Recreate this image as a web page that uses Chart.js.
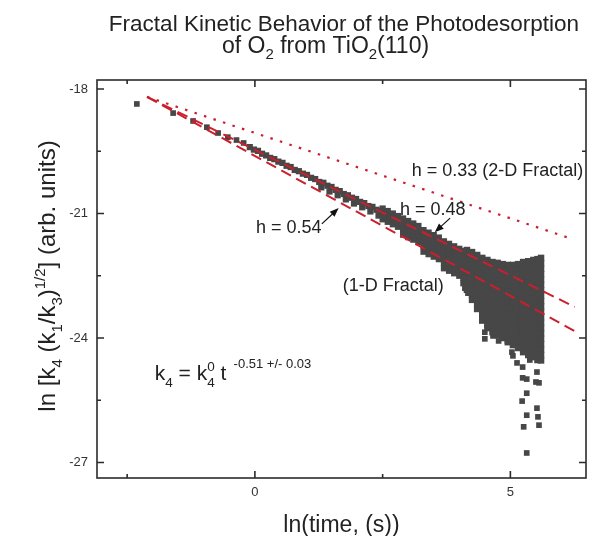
<!DOCTYPE html>
<html>
<head>
<meta charset="utf-8">
<style>
  html, body { margin: 0; padding: 0; background: #fff; }
  #wrap { width: 591px; height: 536px; }
</style>
</head>
<body>
<div id="wrap"><canvas id="c" width="591" height="536"></canvas></div>
<script src="https://cdn.jsdelivr.net/npm/chart.js@4.4.1/dist/chart.umd.min.js"></script>
<script>
/* ---- data (x = ln t, y = ln[k4 (k1/k3)^1/2]) ---- */

// sparse points at short times
const earlyX = [-2.31, -1.60, -1.21, -0.94, -0.72, -0.53, -0.36, -0.22];
const earlyY = [-18.36, -18.58, -18.77, -18.92, -19.06, -19.16, -19.23, -19.30];

// dense band, one column of y values per x
const bandX = [-0.10, -0.02, 0.06, 0.14, 0.22, 0.30, 0.38, 0.46, 0.54, 0.62, 0.70, 0.78, 0.86, 0.94,
  1.02, 1.10, 1.18, 1.26, 1.30, 1.34, 1.42, 1.46, 1.50, 1.58, 1.62, 1.66, 1.74, 1.78, 1.82, 1.90,
  1.94, 1.98, 2.06, 2.10, 2.14, 2.22, 2.26, 2.30, 2.38, 2.42, 2.46,
  2.50, 2.60, 2.70, 2.80, 2.90, 3.00, 3.10, 3.20, 3.30, 3.40, 3.50, 3.60, 3.70, 3.80, 3.90, 4.00, 4.08];
const bandY = [
  [-19.40], [-19.46], [-19.49], [-19.56], [-19.60], [-19.66], [-19.69], [-19.75], [-19.78], [-19.85],
  [-19.88], [-19.95], [-19.98], [-20.04], [-20.07], [-20.14], [-20.17], [-20.24], [-20.37], [-20.26],
  [-20.33], [-20.47], [-20.36], [-20.43], [-20.56], [-20.46], [-20.53], [-20.66], [-20.56], [-20.62],
  [-20.76], [-20.65], [-20.72], [-20.85], [-20.75], [-20.82], [-20.95], [-20.84], [-20.91], [-21.05], [-20.94],
  [-20.88, -21.01, -21.14],
  [-20.94, -21.07, -21.20],
  [-21.00, -21.13, -21.26],
  [-21.06, -21.19, -21.32],
  [-21.12, -21.25, -21.38, -21.51],
  [-21.18, -21.31, -21.44, -21.57],
  [-21.24, -21.37, -21.50, -21.63],
  [-21.30, -21.43, -21.56, -21.69],
  [-21.40, -21.53, -21.66, -21.79, -21.92],
  [-21.46, -21.59, -21.72, -21.85, -21.98],
  [-21.52, -21.65, -21.78, -21.91, -22.04],
  [-21.58, -21.71, -21.84, -21.97, -22.10],
  [-21.67, -21.80, -21.93, -22.06, -22.19, -22.32],
  [-21.73, -21.86, -21.99, -22.12, -22.25, -22.38],
  [-21.79, -21.92, -22.05, -22.18, -22.31, -22.44],
  [-21.85, -21.98, -22.11, -22.24, -22.37, -22.50],
  [-21.90, -22.03, -22.16, -22.29, -22.42, -22.55, -22.68]
];

// wide cloud at long times
const cloudX = [4.15, 4.25, 4.35, 4.45, 4.55, 4.65, 4.75, 4.85, 4.95, 5.05, 5.15, 5.25, 5.35, 5.45, 5.53, 5.60];
const cloudY = [
  [-21.88, -22.01, -22.14, -22.27, -22.40, -22.53, -22.66, -22.78, -22.84],
  [-21.93, -22.06, -22.19, -22.32, -22.45, -22.58, -22.71, -22.84, -22.97, -23.08],
  [-22.00, -22.13, -22.26, -22.39, -22.52, -22.65, -22.78, -22.91, -23.04, -23.17, -23.30],
  [-22.07, -22.20, -22.33, -22.46, -22.59, -22.72, -22.85, -22.98, -23.11, -23.24, -23.37, -23.50, -23.58],
  [-22.12, -22.25, -22.38, -22.51, -22.64, -22.77, -22.90, -23.03, -23.16, -23.29, -23.42, -23.55, -23.68, -23.76],
  [-22.17, -22.30, -22.43, -22.56, -22.69, -22.82, -22.95, -23.08, -23.21, -23.34, -23.47, -23.60, -23.73, -23.86],
  [-22.19, -22.32, -22.45, -22.58, -22.71, -22.84, -22.97, -23.10, -23.23, -23.36, -23.49, -23.62, -23.75, -23.88, -23.93],
  [-22.22, -22.35, -22.48, -22.61, -22.74, -22.87, -23.00, -23.13, -23.26, -23.39, -23.52, -23.65, -23.78, -23.91, -24.00],
  [-22.24, -22.37, -22.50, -22.63, -22.76, -22.89, -23.02, -23.15, -23.28, -23.41, -23.54, -23.67, -23.80, -23.93, -24.06, -24.10],
  [-22.24, -22.37, -22.50, -22.63, -22.76, -22.89, -23.02, -23.15, -23.28, -23.41, -23.54, -23.67, -23.80, -23.93, -24.06, -24.17],
  [-22.22, -22.35, -22.48, -22.61, -22.74, -22.87, -23.00, -23.13, -23.26, -23.39, -23.52, -23.65, -23.78, -23.91, -24.04, -24.17, -24.24],
  [-22.17, -22.30, -22.43, -22.56, -22.69, -22.82, -22.95, -23.08, -23.21, -23.34, -23.47, -23.60, -23.73, -23.86, -23.99, -24.12, -24.25, -24.34],
  [-22.15, -22.28, -22.41, -22.54, -22.67, -22.80, -22.93, -23.06, -23.19, -23.32, -23.45, -23.58, -23.71, -23.84, -23.97, -24.10, -24.23, -24.36, -24.41],
  [-22.12, -22.25, -22.38, -22.51, -22.64, -22.77, -22.90, -23.03, -23.16, -23.29, -23.42, -23.55, -23.68, -23.81, -23.94, -24.07, -24.20, -24.33, -24.46],
  [-22.10, -22.23, -22.36, -22.49, -22.62, -22.75, -22.88, -23.01, -23.14, -23.27, -23.40, -23.53, -23.66, -23.79, -23.92, -24.05, -24.18, -24.31, -24.44, -24.53],
  [-22.07, -22.20, -22.33, -22.46, -22.59, -22.72, -22.85, -22.98, -23.11, -23.24, -23.37, -23.50, -23.63, -23.76, -23.89, -24.02, -24.15, -24.28, -24.41, -24.54]
];

// stray points below the cloud
const spreadX = [4.11, 4.17, 4.50, 4.50, 4.66, 4.77, 5.03, 5.05, 5.13, 5.24, 5.38, 5.52, 5.24, 5.32,
  5.50, 5.56, 5.32, 5.23, 5.52, 5.32, 5.54, 5.26, 5.56, 5.32];
const spreadY = [-22.80, -22.92, -23.86, -24.02, -23.95, -24.07, -24.34, -24.43, -24.60, -24.70, -24.53, -24.82, -24.96, -24.99,
  -25.06, -25.08, -25.33, -25.52, -25.69, -25.86, -25.90, -26.14, -26.10, -26.77];

// fitted power laws (end points)
const fit048X = [-2.11, 6.26], fit048Y = [-18.19, -23.25];
const fit054X = [-2.11, 6.30], fit054Y = [-18.19, -23.86];
const fit033X = [-2.11, 6.20], fit033Y = [-18.19, -21.61];

// axis ticks
const xMajor = [0, 5], xMinor = [-2.5, 2.5];
const yMajor = [-27, -24, -21, -18], yMinor = [-25.5, -22.5, -19.5];

/* ---- helpers ---- */
const FONT = '"Liberation Sans", Arial, Helvetica, sans-serif';
const RED = '#cc1f2d';
const GREY = '#474747';
const INK = '#222';

const pairs = (xs, ys) => xs.map((x, i) => ({ x, y: ys[i] }));
const columns = (xs, cols) => xs.flatMap((x, i) => cols[i].map(y => ({ x, y })));

function fitLine(xs, ys, dash, width) {
  return {
    data: pairs(xs, ys), showLine: true, borderColor: RED, borderWidth: width,
    borderDash: dash, pointRadius: 0, fill: false, order: 0
  };
}
function cloud(points, r) {
  return {
    data: points, pointStyle: 'rect', pointRadius: r, backgroundColor: GREY,
    borderColor: GREY, borderWidth: 0, order: 1
  };
}

// parts: [text, size, dy, keepX]
function richWidth(ctx, parts) {
  let w = 0;
  parts.forEach(p => { ctx.font = p[1] + 'px ' + FONT; if (!p[3]) w += ctx.measureText(p[0]).width; });
  return w;
}
function rich(ctx, parts, x, y) {
  let cx = x;
  parts.forEach(p => {
    ctx.font = p[1] + 'px ' + FONT;
    ctx.fillText(p[0], cx, y + (p[2] || 0));
    if (!p[3]) cx += ctx.measureText(p[0]).width;
  });
}
function arrow(ctx, x1, y1, x2, y2) {
  const a = Math.atan2(y2 - y1, x2 - x1);
  ctx.beginPath(); ctx.moveTo(x1, y1); ctx.lineTo(x2 - 6 * Math.cos(a), y2 - 6 * Math.sin(a)); ctx.stroke();
  ctx.beginPath();
  ctx.moveTo(x2, y2);
  ctx.lineTo(x2 - 9 * Math.cos(a) + 3.5 * Math.sin(a), y2 - 9 * Math.sin(a) - 3.5 * Math.cos(a));
  ctx.lineTo(x2 - 9 * Math.cos(a) - 3.5 * Math.sin(a), y2 - 9 * Math.sin(a) + 3.5 * Math.cos(a));
  ctx.closePath(); ctx.fill();
}

const decor = {
  id: 'decor',
  afterDraw(chart) {
    const ctx = chart.ctx;
    const { left, right, top, bottom } = chart.chartArea;
    const sx = chart.scales.x, sy = chart.scales.y;
    const px = v => sx.getPixelForValue(v), py = v => sy.getPixelForValue(v);
    ctx.save();

    // frame and inward ticks on all sides
    ctx.strokeStyle = '#2b2b2b';
    ctx.lineWidth = 1.6;
    ctx.strokeRect(left, top, right - left, bottom - top);
    ctx.beginPath();
    const tx = (v, len) => { const p = px(v); ctx.moveTo(p, bottom); ctx.lineTo(p, bottom - len); ctx.moveTo(p, top); ctx.lineTo(p, top + len); };
    const ty = (v, len) => { const p = py(v); ctx.moveTo(left, p); ctx.lineTo(left + len, p); ctx.moveTo(right, p); ctx.lineTo(right - len, p); };
    xMajor.forEach(v => tx(v, 7)); xMinor.forEach(v => tx(v, 4));
    yMajor.forEach(v => ty(v, 7)); yMinor.forEach(v => ty(v, 4));
    ctx.stroke();

    ctx.fillStyle = INK;
    ctx.textBaseline = 'alphabetic';
    ctx.textAlign = 'left';

    // title
    const t1 = [['Fractal Kinetic Behavior of the Photodesorption', 22.5]];
    rich(ctx, t1, 344 - richWidth(ctx, t1) / 2, 31);
    rich(ctx, [['of O', 23], ['2', 15, 6], [' from TiO', 23], ['2', 15, 6], ['(110)', 23]], 222, 53);

    // axis titles
    const xt = [['ln(time, (s))', 23]];
    rich(ctx, xt, (left + right) / 2 - richWidth(ctx, xt) / 2, 532);
    const yt = [['ln [k', 24], ['4', 15, 7], [' (k', 24], ['1', 15, 7], ['/k', 24], ['3', 15, 7], [')', 24],
      ['1/2', 15, -10], ['] (arb. units)', 24]];
    ctx.save();
    ctx.translate(55, 276);
    ctx.rotate(-Math.PI / 2);
    rich(ctx, yt, -richWidth(ctx, yt) / 2, 0);
    ctx.restore();

    // annotations
    rich(ctx, [['h = 0.33 (2-D Fractal)', 18]], px(3.07), py(-20.10));
    rich(ctx, [['h = 0.48', 18]], px(2.84), py(-21.04));
    rich(ctx, [['h = 0.54', 18]], px(0.02), py(-21.47));
    rich(ctx, [['(1-D Fractal)', 18]], px(1.72), py(-22.87));
    rich(ctx, [['k', 21], ['4', 13.5, 7], [' = k', 21], ['0', 13.5, -9, true], ['4', 13.5, 7], [' t', 21],
      ['  -0.51 +/- 0.03', 13, -12]], px(-1.96), py(-25.01));

    ctx.strokeStyle = '#111';
    ctx.fillStyle = '#111';
    ctx.lineWidth = 1.2;
    arrow(ctx, px(3.82), py(-21.11), px(3.52), py(-21.45));
    arrow(ctx, px(1.31), py(-21.25), px(1.64), py(-20.87));
    ctx.restore();
  }
};

const tickFont = { family: FONT, size: 13 };

new Chart(document.getElementById('c'), {
  type: 'scatter',
  data: {
    datasets: [
      fitLine(fit048X, fit048Y, [11, 6], 2),
      fitLine(fit054X, fit054Y, [11, 6], 2),
      fitLine(fit033X, fit033Y, [2.5, 7.5], 2.2),
      cloud(pairs(earlyX, earlyY), 4),
      cloud(columns(bandX, bandY), 4.4),
      cloud(columns(cloudX, cloudY), 4.6),
      cloud(pairs(spreadX, spreadY), 4)
    ]
  },
  options: {
    responsive: false,
    animation: false,
    events: [],
    layout: { padding: { top: 80, right: 5, left: 0, bottom: 0 } },
    plugins: { legend: { display: false }, tooltip: { enabled: false }, title: { display: false } },
    scales: {
      x: {
        type: 'linear', min: -3.09, max: 6.48,
        afterBuildTicks: s => { s.ticks = xMajor.map(v => ({ value: v })); },
        afterFit: s => { s.height = 58; },
        ticks: { callback: v => String(v), font: tickFont, color: '#333', padding: 7, maxRotation: 0, autoSkip: false },
        grid: { display: false, drawTicks: false },
        border: { display: false }
      },
      y: {
        type: 'linear', min: -27.373, max: -17.783,
        afterBuildTicks: s => { s.ticks = yMajor.map(v => ({ value: v })); },
        afterFit: s => { s.width = 97; },
        ticks: { callback: v => String(v), font: tickFont, color: '#333', padding: 9, autoSkip: false },
        grid: { display: false, drawTicks: false },
        border: { display: false }
      }
    }
  },
  plugins: [decor]
});
</script>
</body>
</html>
